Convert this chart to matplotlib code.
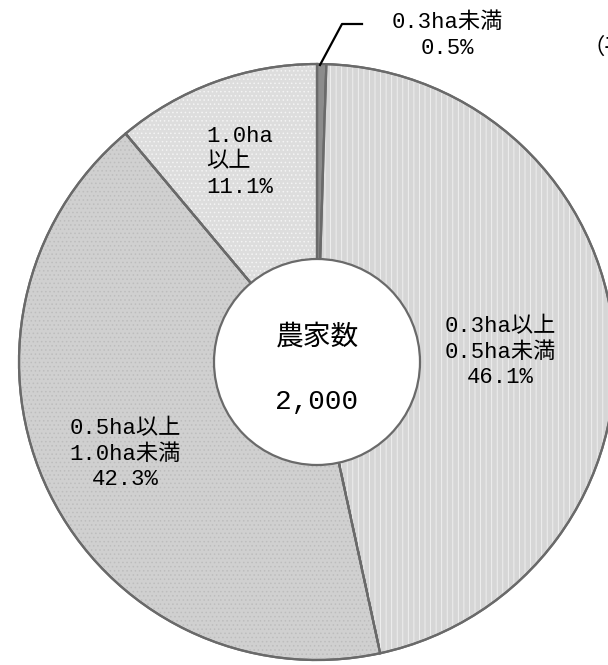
import matplotlib
matplotlib.use('Agg')
import matplotlib.pyplot as plt
from matplotlib.patches import Circle, Wedge

plt.rcParams['font.family'] = ['Liberation Mono', 'Noto Sans CJK JP', 'DejaVu Sans']
plt.rcParams['hatch.linewidth'] = 0.6

# data
categories = ['0.3ha未満', '0.3ha以上\n0.5ha未満', '0.5ha以上\n1.0ha未満', '1.0ha\n以上']
shares = [0.5, 46.1, 42.3, 11.1]
total_label = '2,000'
center_title = '農家数'

face_colors = ['#8c8c8c', '#d6d6d6', '#d0d0d0', '#dddddd']
hatches = ['', '|||', '....', '....']
hatch_colors = ['#8c8c8c', '#f2f2f2', '#bdbdbd', '#f4f4f4']

W, H = 608, 665
fig = plt.figure(figsize=(W / 100, H / 100), dpi=100)
ax = fig.add_axes([0, 0, 1, 1])

cx, cy = 317, H - 362
R = 298

wedges, _ = ax.pie(shares, startangle=90, counterclock=False,
                   colors=face_colors, radius=R, center=(cx, cy),
                   wedgeprops=dict(edgecolor='#6a6a6a', linewidth=1.6))

# texture overlay
for w, hp, hc in zip(wedges, hatches, hatch_colors):
    if hp:
        ax.add_patch(Wedge((cx, cy), R - 1.5, w.theta1, w.theta2, facecolor='none',
                           edgecolor=hc, hatch=hp, linewidth=0, zorder=1.5))
        ax.add_patch(Wedge((cx, cy), R, w.theta1, w.theta2, facecolor='none',
                           edgecolor='#6a6a6a', linewidth=1.6, zorder=1.6))

# center hole
ax.add_patch(Circle((cx, cy), 103, facecolor='white', edgecolor='#6a6a6a',
                    linewidth=1.6, zorder=3))
ax.text(cx, H - 338, center_title, ha='center', va='center', fontsize=20, zorder=4)
ax.text(cx, H - 402, total_label, ha='center', va='center', fontsize=20, zorder=4)

ax.set_xlim(0, W)
ax.set_ylim(0, H)
ax.set_aspect('equal')
ax.axis('off')

fs = 16
# 0.3ha未満 (leader)
ax.plot([320, 342, 362], [H - 65, H - 24, H - 24], color='black', lw=1.6, zorder=5)
ax.text(447, H - 22, categories[0], ha='center', va='center', fontsize=fs)
ax.text(447, H - 48, f'{shares[0]}%', ha='center', va='center', fontsize=fs)

ax.text(500, H - 352, f'{categories[1]}\n{shares[1]}%', ha='center', va='center',
        fontsize=fs, linespacing=1.3, zorder=4)
ax.text(125, H - 454, f'{categories[2]}\n{shares[2]}%', ha='center', va='center',
        fontsize=fs, linespacing=1.3, zorder=4)
ax.text(206, H - 162, f'{categories[3]}\n{shares[3]}%', ha='left', va='center',
        fontsize=fs, linespacing=1.3, zorder=4)

ax.text(582, H - 48, '（平成', ha='left', va='center', fontsize=fs, clip_on=True)

fig.savefig('out.png', dpi=100)
